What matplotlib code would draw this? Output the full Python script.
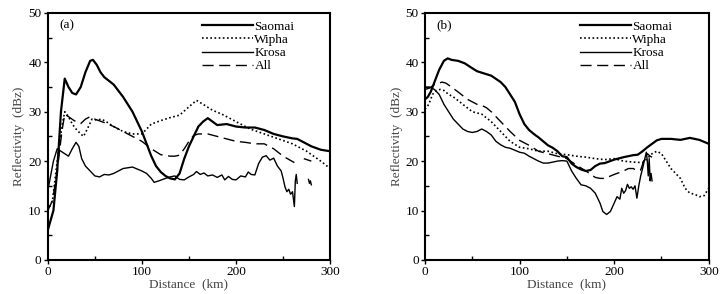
import numpy as np
import matplotlib
matplotlib.use("Agg")
import matplotlib.pyplot as plt
from matplotlib.ticker import MultipleLocator

plt.rcParams['font.family'] = ['Liberation Serif', 'DejaVu Serif']

nan = np.nan

# ---- panel (a) ----
a_saomai_x = [0, 3, 6, 10, 14, 18, 22, 26, 30, 35, 40, 45, 48, 52, 56, 60, 70, 80, 90, 100, 105, 110, 115, 120,
              125, 130, 135, 140, 145, 150, 155, 160, 165, 170, 175, 180, 190, 200, 210, 220, 230, 240, 250, 260,
              265, 270, 280, 290, 300]
a_saomai_y = [6, 8, 10, 18, 30, 36.7, 35, 33.8, 33.5, 35, 38, 40.3, 40.5, 39.5, 38, 37, 35.5, 33, 30, 26, 23.5, 21,
              19, 17.8, 17, 16.5, 16.3, 17.5, 20.5, 23, 25, 27, 28, 28.7, 28, 27.3, 27.5, 27, 26.8, 26.8, 26.3, 25.5,
              25, 24.6, 24.5, 24, 23, 22.3, 22]

a_wipha_x = [0, 5, 10, 15, 18, 22, 26, 30, 35, 38, 42, 47, 52, 57, 62, 70, 80, 90, 100, 110, 120, 130, 140, 150,
             158, 165, 175, 185, 200, 215, 230, 245, 260, 275, 290, 300]
a_wipha_y = [10, 12, 20, 27, 30, 29, 27.5, 26.5, 25.5, 25, 26.5, 28.5, 28.3, 28.5, 28, 27, 26, 25.5, 25.5, 27.5,
             28.2, 28.8, 29.3, 31, 32.3, 31.5, 30.3, 29.5, 28, 26.5, 25.5, 24.5, 23.5, 22, 20, 18.5]

a_krosa_x = [0, 3, 6, 10, 14, 18, 22, 26, 30, 33, 36, 40, 45, 50, 55, 60, 65, 70, 80, 90, 100, 105, 110, 113, 118,
             125, 130, 135, 140, 145, 150, 155, 158, 162, 166, 170, 175, 180, 185, 188, 192, 196, 200, 205, 210,
             213, 216, 220, 224, 228, 232, 236, 240, 244, 248, 250, 252, 254, 256, 258, 260, 262, 263, 264, 265,
             270, 277, 278, 279, 280]
a_krosa_y = [14, 17, 20, 22.5, 22, 21.5, 21, 22.5, 23.8, 23, 20.5, 19, 18, 17, 16.8, 17.3, 17.2, 17.5, 18.5, 18.8,
             18, 17.5, 16.5, 15.7, 16, 16.5, 16.8, 17, 16.3, 16.2, 16.8, 17.3, 17.9, 17.3, 17.6, 17, 17.2, 16.7,
             17.2, 16.2, 16.9, 16.3, 16.2, 17, 16.8, 17.8, 17.3, 17.2, 19.5, 20.8, 21.1, 20.2, 20.6, 19, 18, 16.5,
             14.8, 13.8, 14.3, 13.3, 13.8, 10.8, 16, 17.3, 15.5,
             nan, 16.3, 15.5, 16.0, 15.2]

a_all_x = [0, 5, 10, 15, 18, 22, 28, 35, 40, 45, 50, 60, 70, 80, 90, 100, 110, 120, 130, 135, 140, 145, 150, 155,
           160, 170, 180, 190, 200, 210, 220, 230, 240, 250, 262, 266, 272, 280]
a_all_y = [10, 12, 18, 26, 29.5, 29, 28.2, 27.6, 28.5, 29, 28.5, 27.8, 27, 26, 25, 24, 22.5, 21.3, 21, 21, 21.2,
           22.5, 24, 25.2, 25.5, 25.5, 25, 24.5, 24, 23.8, 23.5, 23.5, 22.5, 21, 19.7, nan, 20.5, 20]

# ---- panel (b) ----
b_saomai_x = [0, 3, 6, 10, 15, 20, 24, 28, 35, 42, 50, 55, 60, 70, 80, 85, 90, 95, 100, 105, 110, 115, 120, 125,
              130, 135, 140, 145, 150, 155, 160, 165, 170, 175, 180, 185, 190, 200, 210, 220, 225, 230, 235, 240,
              245, 250, 260, 270, 280, 290, 300]
b_saomai_y = [32.5, 33, 34, 36, 38.5, 40.3, 40.8, 40.5, 40.3, 39.8, 38.8, 38.2, 37.9, 37.3, 36, 35, 33.5, 32, 29.5,
              27.5, 26.3, 25.5, 24.8, 24, 23.2, 22.7, 22, 21, 20.8, 19.5, 18.8, 18.3, 18, 18.2, 19, 19.5, 19.6, 20.3,
              20.8, 21.2, 21.3, 22, 22.8, 23.5, 24.2, 24.5, 24.5, 24.3, 24.7, 24.3, 23.5]

b_wipha_x = [0, 4, 8, 12, 16, 20, 25, 30, 40, 50, 60, 70, 80, 90, 100, 110, 120, 130, 140, 150, 160, 170, 180, 190,
             200, 210, 220, 230, 235, 240, 245, 250, 255, 260, 265, 270, 275, 280, 285, 290, 295, 300]
b_wipha_y = [30.5, 31.5, 33.5, 34.3, 34.5, 34.3, 33.5, 33, 31.5, 30, 29.5, 28, 26, 24, 22.8, 22.5, 22, 22, 21.5,
             21.3, 21, 20.8, 20.5, 20.3, 20.5, 20, 19.8, 19.7, 20.5, 21.5, 22, 21.5, 20, 18.5, 17.5, 16.5, 14.5,
             13.5, 13.3, 12.8, 13, 14.5]

b_krosa_x = [0, 5, 10, 15, 20, 25, 30, 35, 40, 45, 50, 55, 60, 65, 70, 75, 80, 85, 90, 95, 100, 105, 110, 115, 120,
             125, 130, 135, 140, 145, 150, 155, 160, 165, 170, 175, 180, 185, 188, 192, 196, 200, 203, 206, 208,
             210, 212, 214, 216, 218, 220, 222, 224, 226, 228, 230, 232, 234, 235, 236, 237, 238, 239, 240]
b_krosa_y = [35, 35, 34.5, 33.5, 31.5, 30, 28.5, 27.5, 26.5, 26, 25.8, 26, 26.5, 26, 25.3, 24, 23.3, 22.8, 22.6,
             22.2, 21.8, 21.6, 21, 20.5, 20, 19.6, 19.6, 19.8, 20, 20.1, 20, 18, 16.5, 15.2, 15, 14.5, 13.5, 11.5,
             9.8, 9.2, 9.8, 11.5, 12.8, 12.3, 14.5, 13.5, 14, 15.3, 14.5, 14.8, 14.3, 15, 12.5, 15, 17, 18.5, 20.2,
             21.8, 20, 17, 20.5, 16, 17.5, 16]

b_all_x = [0, 5, 10, 15, 18, 22, 28, 35, 45, 55, 60, 65, 70, 80, 90, 100, 110, 120, 130, 140, 150, 160, 170, 180,
           185, 190, 200, 210, 215, 220, 225, 228, 232, 235, 238, 240]
b_all_y = [34.5, 34.8, 35.5, 35.8, 36, 35.8, 35, 34, 32.5, 31.5, 31.3, 30.8, 30, 28, 26, 24.2, 23.2, 22, 21.5, 21,
           20.5, 19.2, 18, 16.7, 16.5, 16.5, 17.3, 18, 18.5, 18.5, 18, 18.2, 20.5, 21.5, 21, 20.8]

names = ['Saomai', 'Wipha', 'Krosa', 'All']
styles = [dict(ls='-', lw=1.6), dict(ls=(0, (1, 1.5)), lw=1.2),
          dict(ls='-', lw=1.0), dict(ls=(0, (8, 4)), lw=1.0)]

panels = [
    ('(a)', [(a_saomai_x, a_saomai_y), (a_wipha_x, a_wipha_y), (a_krosa_x, a_krosa_y), (a_all_x, a_all_y)]),
    ('(b)', [(b_saomai_x, b_saomai_y), (b_wipha_x, b_wipha_y), (b_krosa_x, b_krosa_y), (b_all_x, b_all_y)]),
]

fig = plt.figure(figsize=(7.24, 2.94), dpi=100)
rects = [[0.066, 0.116, 0.390, 0.840], [0.587, 0.116, 0.392, 0.840]]
leg_x = [0.545, 0.545]

for rect, lx, (tag, series) in zip(rects, leg_x, panels):
    ax = fig.add_axes(rect)
    for (x, y), name, st in zip(series, names, styles):
        ax.plot(x, y, color='black', label=name, **st)
    ax.set_xlim(0, 300)
    ax.set_ylim(0, 50)
    ax.xaxis.set_major_locator(MultipleLocator(100))
    ax.xaxis.set_minor_locator(MultipleLocator(50))
    ax.yaxis.set_major_locator(MultipleLocator(10))
    ax.yaxis.set_minor_locator(MultipleLocator(5))
    ax.tick_params(which='major', direction='out', length=3, width=1, labelsize=9.5, pad=1.5)
    ax.tick_params(which='minor', direction='in', length=3, width=1)
    for sp in ax.spines.values():
        sp.set_linewidth(1.5)
    ax.set_xlabel('Distance  (km)', fontsize=9.5, color='#444444', labelpad=0)
    ax.set_ylabel('Reflectivity  (dBz)', fontsize=9.5, color='#444444', labelpad=2)
    ax.text(0.04, 0.975, tag, transform=ax.transAxes, ha='left', va='top', fontsize=9.5)
    ax.legend(loc='upper left', bbox_to_anchor=(lx, 0.97), frameon=False, fontsize=9.5,
              handlelength=3.9, handletextpad=0.1, labelspacing=0.08, borderaxespad=0, borderpad=0)

fig.savefig('out.png', dpi=100)
